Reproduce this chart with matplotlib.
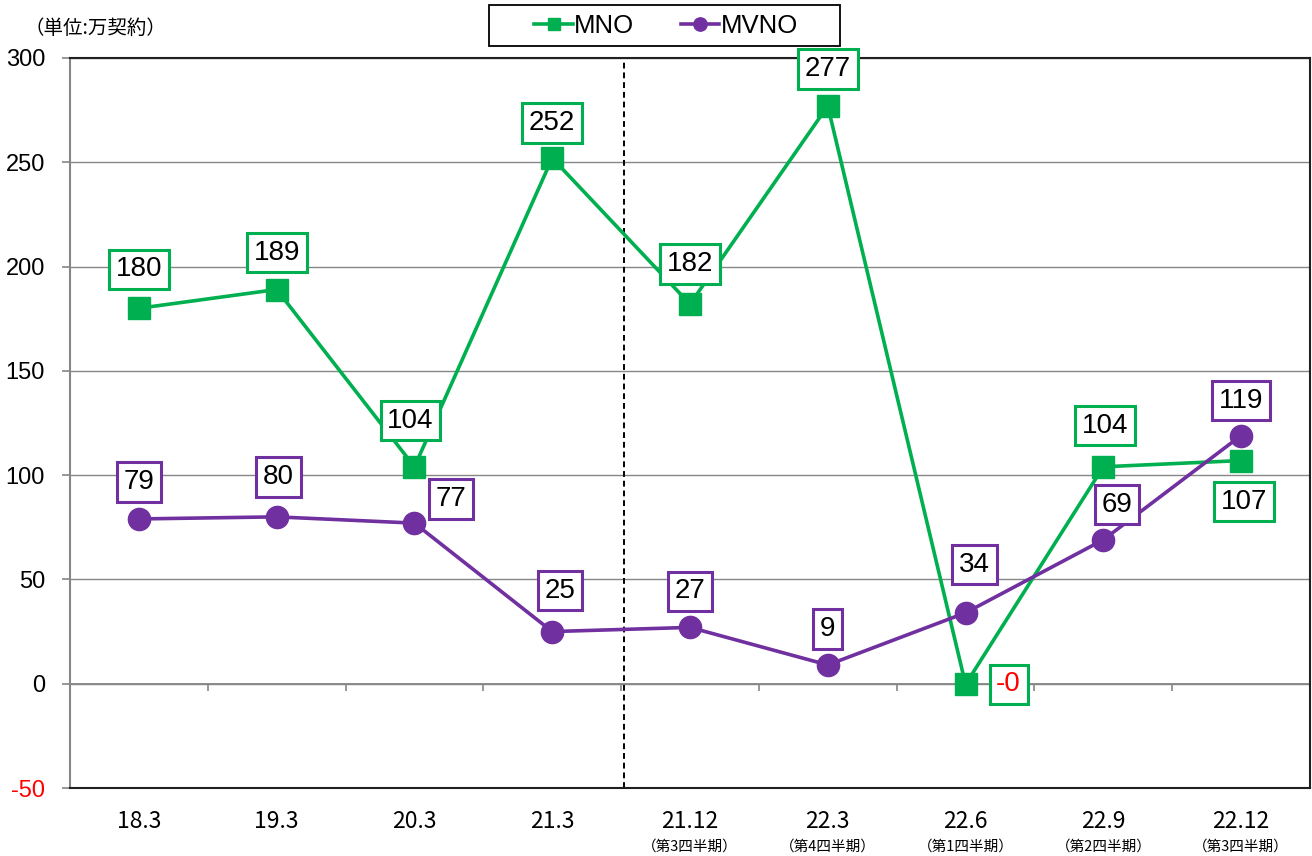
import matplotlib
matplotlib.use("Agg")
import matplotlib.pyplot as plt
import matplotlib.transforms as mtransforms
from matplotlib.patches import Rectangle
import numpy as np

categories = ["18.3", "19.3", "20.3", "21.3", "21.12", "22.3", "22.6", "22.9", "22.12"]
sub_labels = ["", "", "", "", "（第3四半期）", "（第4四半期）", "（第1四半期）", "（第2四半期）", "（第3四半期）"]
mno = [180, 189, 104, 252, 182, 277, -0.3, 104, 107]
mvno = [79, 80, 77, 25, 27, 9, 34, 69, 119]
yticks = [-50, 0, 50, 100, 150, 200, 250, 300]

# label offsets in pixels (dx, dy) relative to the marker
mno_off = [(0, 39), (0, 37), (-4, 46), (0, 35), (0, 40), (0, 37), (43, 0), (2, 41), (3, -41)]
mvno_off = [(0, 37), (2, 40), (37, 24), (8, 41), (0, 36), (0, 36), (9, 48), (14, 35), (0, 35)]

GREEN = "#00B050"
PURPLE = "#7030A0"
GRAY = "#868686"

plt.rcParams['font.family'] = ['Liberation Sans', 'DejaVu Sans']
plt.rcParams['axes.unicode_minus'] = False
fig = plt.figure(figsize=(13.12, 8.56), dpi=100)
ax = fig.add_axes([70 / 1312, 1 - 788 / 856, 1240 / 1312, 730 / 856])

x = np.arange(len(categories))
ax.set_xlim(-0.5, len(categories) - 0.5)
ax.set_ylim(-50, 300)

ax.set_yticks(yticks)
ax.grid(axis='y', color=GRAY, linewidth=1.0, zorder=0)
ax.axhline(0, color=GRAY, linewidth=1.3, zorder=1)
ax.tick_params(axis='y', length=6, width=1.2, color=GRAY, pad=12, labelsize=17)
for lbl, v in zip(ax.get_yticklabels(), yticks):
    if v < 0:
        lbl.set_color('red')

ax.set_xticks(x)
ax.set_xticklabels(categories, fontsize=16.5, family=['Noto Sans CJK JP', 'DejaVu Sans'])
ax.tick_params(axis='x', length=0, pad=16)
trans = mtransforms.blended_transform_factory(ax.transData, ax.transAxes)
for xi, s in zip(x, sub_labels):
    if s:
        ax.text(xi, -0.080, s, transform=trans, ha='center', va='center', fontsize=10.5,
                family=['Noto Sans CJK JP', 'DejaVu Sans'])

# category boundary tick marks on the zero line
bounds = np.arange(0.5, len(categories) - 0.5, 1.0)
ax.vlines(bounds, -3.5, 0, color=GRAY, linewidth=1.2, zorder=1)

ax.spines['left'].set_color(GRAY)
ax.spines['left'].set_linewidth(1.5)
for side in ['top', 'right', 'bottom']:
    ax.spines[side].set_color('#202020')
    ax.spines[side].set_linewidth(1.5)

# dashed separator
ax.axvline(3.52, color='black', linestyle=(0, (3, 2)), linewidth=1.4, zorder=2)

ax.plot(x, mno, color=GREEN, linewidth=2.6, marker='s', markersize=15.5, label='MNO', zorder=4)
ax.plot(x, mvno, color=PURPLE, linewidth=2.6, marker='o', markersize=16, label='MVNO', zorder=4)

px = 72 / 100
for xi, v, (dx, dy) in zip(x, mno, mno_off):
    txt = f"{v:.0f}"
    ax.annotate(txt, (xi, v), xytext=(dx * px, dy * px), textcoords='offset points',
                ha='center', va='center', fontsize=20, color='red' if v < 0 else 'black',
                bbox=dict(boxstyle='square,pad=0.24', fc='white', ec=GREEN, lw=2.2), zorder=6)
for xi, v, (dx, dy) in zip(x, mvno, mvno_off):
    ax.annotate(f"{v:.0f}", (xi, v), xytext=(dx * px, dy * px), textcoords='offset points',
                ha='center', va='center', fontsize=20, color='black',
                bbox=dict(boxstyle='square,pad=0.24', fc='white', ec=PURPLE, lw=2.2), zorder=6)

# legend (frame drawn as a separate rectangle to match the wide padding)
leg = fig.legend(loc='center', bbox_to_anchor=(666 / 1312, 1 - 26 / 856), ncol=2,
                 fontsize=18.5, frameon=False,
                 markerscale=0.6, handlelength=1.5, handletextpad=0.05, columnspacing=1.8,
                 borderpad=0.0)
fig.patches.append(Rectangle((489 / 1312, 1 - 46 / 856), 351 / 1312, 41 / 856,
                             transform=fig.transFigure, fill=False, edgecolor='black',
                             linewidth=1.3, zorder=10))

fig.text(24 / 1312, 1 - 28 / 856, "（単位:万契約）", fontsize=14, va='center', ha='left',
         family=['Noto Sans CJK JP', 'DejaVu Sans'])

fig.savefig("out.png", dpi=100)
